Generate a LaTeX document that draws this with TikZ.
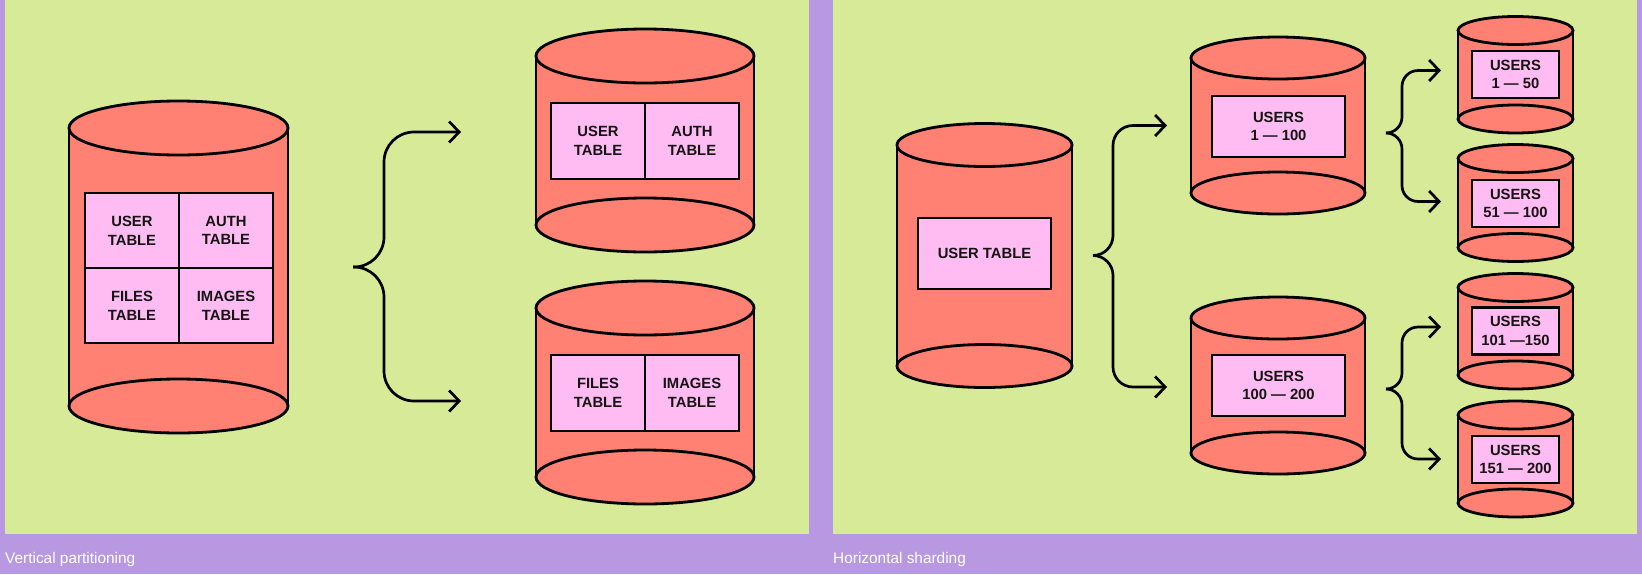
\documentclass[tikz,border=0pt]{standalone}
\usepackage{fontspec}
\setmainfont{Liberation Sans}
\usetikzlibrary{positioning,arrows.meta}

\definecolor{bgpurple}{HTML}{B898E0}
\definecolor{panelgreen}{HTML}{D6EA98}
\definecolor{dbred}{HTML}{FF8173}
\definecolor{tblpink}{HTML}{FFBCF2}
\definecolor{ink}{HTML}{141414}

\tikzset{
 dbline/.style={draw=black,line width=2.8pt},
 tbl/.style={draw=black,line width=2.6pt,fill=tblpink,text=ink,inner sep=0pt,outer sep=0pt,
  align=center,font=\fontsize{14.8}{18.7}\selectfont\bfseries},
 vcell/.style={tbl,minimum width=94pt,minimum height=75pt},
 hcell/.style={tbl,minimum width=133pt,minimum height=61pt},
 scell/.style={tbl,minimum width=87pt,minimum height=47pt},
 splitarrow/.style={draw=black,line width=2.7pt,-{Straight Barb[length=10pt,width=21pt]}},
 panelcap/.style={anchor=base west,inner sep=0pt,text=white,font=\fontsize{15.4}{18}\selectfont}
}

% #1 name, #2 x centre, #3 top, #4 bottom, #5 x radius, #6 y radius
\newcommand{\dbcyl}[6]{
 \fill[dbred] (#2-#5,#3) rectangle (#2+#5,#4);
 \draw[dbline,fill=dbred] (#2,#4) ellipse [x radius=#5,y radius=#6];
 \draw[dbline] (#2-#5,#3) -- (#2-#5,#4) (#2+#5,#3) -- (#2+#5,#4);
 \draw[dbline,fill=dbred] (#2,#3) ellipse [x radius=#5,y radius=#6];
 \node[inner sep=0pt,outer sep=0pt,minimum width={2*#5*1pt},minimum height={(#4-#3)*1pt}]
  (#1) at (#2,{(#3+#4)/2}) {};
}

\begin{document}
\begin{tikzpicture}[x=1pt,y=-1pt]
 \useasboundingbox (0,0) rectangle (1642,574);
 \fill[bgpurple] (0,0) rectangle (1642,574);
 \fill[panelgreen] (5,0) rectangle (809,534);
 \fill[panelgreen] (833,0) rectangle (1637,534);

 % vertical partitioning
 \dbcyl{vsrc}{178.5}{128}{406}{109.5}{27}
 \dbcyl{vtop}{645}{56}{225}{109}{27}
 \dbcyl{vbot}{645}{308}{477}{109}{27}

 \node[vcell] (vuser) at (132,230.5) {USER\\TABLE};
 \node[vcell,right=0pt of vuser] (vauth) {AUTH\\TABLE};
 \node[vcell,below=0pt of vuser] (vfiles) {FILES\\TABLE};
 \node[vcell,right=0pt of vfiles] (vimages) {IMAGES\\TABLE};

 \node[vcell,minimum height=76pt] (vuser2) at (598,141) {USER\\TABLE};
 \node[vcell,minimum height=76pt,right=0pt of vuser2] (vauth2) {AUTH\\TABLE};
 \node[vcell,minimum height=76pt] (vfiles2) at (598,393) {FILES\\TABLE};
 \node[vcell,minimum height=76pt,right=0pt of vfiles2] (vimages2) {IMAGES\\TABLE};

 \coordinate[right=65pt of vsrc] (vtip);
 \coordinate (vin1) at (461,132);
 \coordinate (vin2) at (461,401);
 \draw[splitarrow,rounded corners=30pt] (vtip) -- ++(31,0) |- (vin1);
 \draw[splitarrow,rounded corners=30pt] (vtip) -- ++(31,0) |- (vin2);

 % horizontal sharding
 \dbcyl{hsrc}{984.5}{145}{366}{87.5}{21.5}
 \dbcyl{hmid1}{1278}{58}{193}{87}{21}
 \dbcyl{hmid2}{1278}{318}{453}{87}{21}
 \dbcyl{hs1}{1515.5}{30.5}{119}{57.5}{14}
 \dbcyl{hs2}{1515.5}{158.5}{247.5}{57.5}{14}
 \dbcyl{hs3}{1515.5}{287.5}{375}{57.5}{14}
 \dbcyl{hs4}{1515.5}{415}{503}{57.5}{14}

 \node[hcell,minimum height=71pt] (husers) at (984.5,253.5) {USER TABLE};
 \node[hcell] (hu1) at (1278.5,126.5) {USERS\\1 — 100};
 \node[hcell] (hu2) at (1278.5,385.5) {USERS\\100 — 200};
 \node[scell] (hs1u) at (1515.5,74.5) {USERS\\1 — 50};
 \node[scell] (hs2u) at (1515.5,203.5) {USERS\\51 — 100};
 \node[scell] (hs3u) at (1515.5,331) {USERS\\101 —150};
 \node[scell] (hs4u) at (1515.5,459.5) {USERS\\151 — 200};

 \coordinate[right=21pt of hsrc] (htip);
 \coordinate (hin1) at (1167,125.5);
 \coordinate (hin2) at (1167,387);
 \draw[splitarrow,rounded corners=20pt] (htip) -- ++(20,0) |- (hin1);
 \draw[splitarrow,rounded corners=20pt] (htip) -- ++(20,0) |- (hin2);

 \coordinate (stip1) at (1386,133);
 \coordinate (sin1) at (1441,70.5);
 \coordinate (sin2) at (1441,201.5);
 \draw[splitarrow,rounded corners=16pt] (stip1) -- ++(16,0) |- (sin1);
 \draw[splitarrow,rounded corners=16pt] (stip1) -- ++(16,0) |- (sin2);

 \coordinate (stip2) at (1386,389);
 \coordinate (sin3) at (1441,327);
 \coordinate (sin4) at (1441,459);
 \draw[splitarrow,rounded corners=16pt] (stip2) -- ++(16,0) |- (sin3);
 \draw[splitarrow,rounded corners=16pt] (stip2) -- ++(16,0) |- (sin4);

 \node[panelcap] (vcap) at (5,563) {Vertical partitioning};
 \node[panelcap] (hcap) at (833,563) {Horizontal sharding};
\end{tikzpicture}
\end{document}
